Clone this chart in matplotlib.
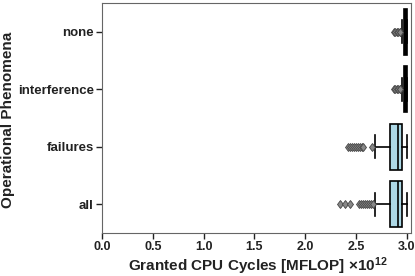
import numpy as np
import matplotlib
matplotlib.use("Agg")
from matplotlib import pyplot as plt

# valores em unidades de 1e12 MFLOP
categorias = ["all", "failures", "interference", "none"]
whis_lo = [2.69, 2.69, 2.95, 2.95]
q1 = [2.835, 2.835, 2.97, 2.97]
mediana = [2.912, 2.912, 2.99, 2.99]
q3 = [2.95, 2.95, 3.0, 3.0]
whis_hi = [3.0, 3.0, 3.0, 3.0]
outliers = [
    [2.34, 2.39, 2.44, 2.53, 2.55, 2.57, 2.59, 2.61, 2.63, 2.65, 2.67],
    [2.42, 2.44, 2.46, 2.48, 2.50, 2.52, 2.54, 2.56, 2.57, 2.655],
    [2.87, 2.885, 2.90, 2.915, 2.93, 2.935],
    [2.87, 2.885, 2.90, 2.915, 2.93, 2.935],
]
cores = ["#add8e6", "#add8e6", "black", "black"]
xticks = [0, 0.5, 1.0, 1.5, 2.0, 2.5, 3.0]

plt.rcParams['font.family'] = ['Liberation Sans', 'DejaVu Sans']
plt.rcParams['font.weight'] = 'bold'
plt.rcParams['mathtext.fontset'] = 'custom'
plt.rcParams['mathtext.rm'] = 'Liberation Sans:bold'
plt.rcParams['mathtext.it'] = 'Liberation Sans:bold'
plt.rcParams['mathtext.bf'] = 'Liberation Sans:bold'

fig = plt.figure(figsize=(4.15, 2.76), dpi=100)
ax = fig.add_axes([102/415, 43/276, 309/415, 230/276])

stats = []
for i in range(len(categorias)):
    stats.append(dict(whislo=whis_lo[i], q1=q1[i], med=mediana[i], q3=q3[i],
                      whishi=whis_hi[i], fliers=outliers[i]))

bp = ax.bxp(stats, positions=range(len(categorias)), vert=False, widths=0.8,
            patch_artist=True, showfliers=True,
            boxprops=dict(edgecolor='black', linewidth=1.2),
            medianprops=dict(color='black', linewidth=1.2),
            whiskerprops=dict(color='black', linewidth=1.2),
            capprops=dict(color='black', linewidth=1.2),
            flierprops=dict(marker='d', markerfacecolor='#888888',
                            markeredgecolor='#444444', markersize=4.5,
                            markeredgewidth=0.6))
for b, c in zip(bp['boxes'], cores):
    b.set_facecolor(c)

ax.set_yticks(range(len(categorias)))
ax.set_yticklabels(categorias, fontsize=9.5, fontweight='bold')
ax.set_ylim(-0.5, 3.5)
ax.set_xlim(0, 3.04)
ax.set_xticks(xticks)
ax.set_xticklabels(["%.1f" % v for v in xticks], fontsize=9, fontweight='bold')
ax.tick_params(length=4, width=1, pad=2, colors='#222222', labelcolor='#222222')

ax.set_xlabel(r"Granted CPU Cycles [MFLOP] ×10$^{12}$",
              fontsize=11, fontweight='bold', color='#222222')
ax.set_ylabel("Operational Phenomena", fontsize=11, fontweight='bold',
              color='#222222')
ax.xaxis.set_label_coords(0.503, -0.098)
ax.yaxis.set_label_coords(-0.283, 0.49)

for s in ax.spines.values():
    s.set_color('#666666')

fig.savefig("out.png", dpi=100)
